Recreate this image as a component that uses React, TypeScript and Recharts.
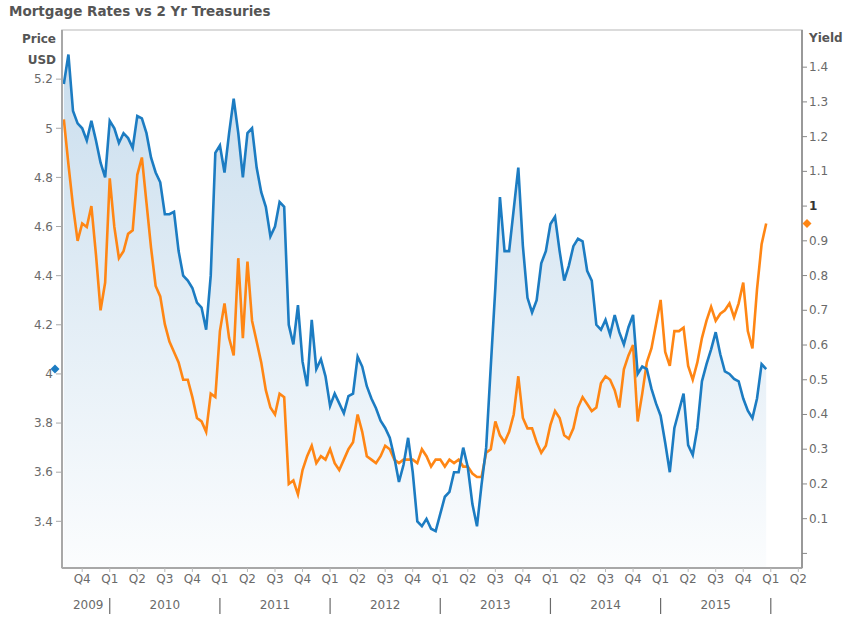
import { ComposedChart, Area, Line, XAxis, YAxis, ReferenceArea, ReferenceDot } from 'recharts';

// months since Jan 2009, one point every half month
const startMonth = 7;
const stepMonths = 0.5;

// Mortgage rate (left axis, USD)
const mortgageRate = [
  5.18, 5.30, 5.07, 5.02, 5.00, 4.95, 5.03, 4.95, 4.86, 4.80,
  5.03, 5.00, 4.94, 4.98, 4.96, 4.92, 5.05, 5.04, 4.98, 4.88,
  4.82, 4.78, 4.65, 4.65, 4.66, 4.50, 4.40, 4.38, 4.35, 4.29,
  4.27, 4.18, 4.40, 4.90, 4.93, 4.82, 4.98, 5.12, 4.98, 4.80,
  4.98, 5.00, 4.84, 4.74, 4.68, 4.56, 4.60, 4.70, 4.68, 4.20,
  4.12, 4.28, 4.05, 3.95, 4.22, 4.02, 4.06, 3.99, 3.87, 3.92,
  3.88, 3.84, 3.91, 3.92, 4.07, 4.03, 3.95, 3.90, 3.86, 3.81,
  3.78, 3.74, 3.66, 3.56, 3.63, 3.74, 3.60, 3.40, 3.38, 3.41,
  3.37, 3.36, 3.43, 3.50, 3.52, 3.60, 3.60, 3.70, 3.62, 3.47,
  3.38, 3.55, 3.70, 4.03, 4.35, 4.72, 4.50, 4.50, 4.67, 4.84,
  4.52, 4.31, 4.25, 4.30, 4.45, 4.50, 4.61, 4.64, 4.50, 4.38,
  4.44, 4.52, 4.55, 4.54, 4.42, 4.38, 4.20, 4.18, 4.22, 4.16,
  4.24, 4.17, 4.12, 4.19, 4.24, 4.00, 4.03, 4.02, 3.94, 3.88,
  3.83, 3.72, 3.60, 3.78, 3.85, 3.92, 3.71, 3.67, 3.78, 3.97,
  4.04, 4.10, 4.17, 4.08, 4.01, 4.00, 3.98, 3.97, 3.90, 3.85,
  3.82, 3.90, 4.04, 4.02,
];

// 2 Yr Treasury yield (right axis)
const treasuryYield = [
  1.25, 1.12, 1.00, 0.90, 0.95, 0.94, 1.00, 0.86, 0.70, 0.78,
  1.08, 0.94, 0.85, 0.87, 0.92, 0.93, 1.09, 1.14, 1.01, 0.88,
  0.77, 0.74, 0.66, 0.61, 0.58, 0.55, 0.50, 0.50, 0.45, 0.39,
  0.38, 0.35, 0.46, 0.45, 0.64, 0.72, 0.62, 0.57, 0.85, 0.62,
  0.84, 0.67, 0.61, 0.55, 0.47, 0.42, 0.40, 0.46, 0.45, 0.20,
  0.21, 0.17, 0.24, 0.28, 0.31, 0.26, 0.28, 0.27, 0.30, 0.26,
  0.24, 0.27, 0.30, 0.32, 0.40, 0.35, 0.28, 0.27, 0.26, 0.28,
  0.31, 0.30, 0.27, 0.26, 0.27, 0.27, 0.27, 0.26, 0.30, 0.28,
  0.25, 0.27, 0.27, 0.25, 0.27, 0.26, 0.27, 0.25, 0.25, 0.23,
  0.22, 0.22, 0.29, 0.30, 0.38, 0.34, 0.32, 0.35, 0.40, 0.51,
  0.39, 0.36, 0.36, 0.32, 0.29, 0.31, 0.37, 0.41, 0.39, 0.34,
  0.33, 0.36, 0.42, 0.45, 0.43, 0.41, 0.42, 0.49, 0.51, 0.50,
  0.47, 0.42, 0.53, 0.57, 0.60, 0.38, 0.46, 0.55, 0.59, 0.66,
  0.73, 0.58, 0.54, 0.64, 0.64, 0.65, 0.54, 0.50, 0.55, 0.62,
  0.67, 0.71, 0.67, 0.69, 0.70, 0.72, 0.68, 0.72, 0.78, 0.64,
  0.59, 0.76, 0.89, 0.95,
];

// quarter starts (months since Jan 2009): Q4 2009 .. Q2 2016
const quarterTicks = [9, 12, 15, 18, 21, 24, 27, 30, 33, 36, 39, 42, 45, 48, 51, 54, 57, 60, 63, 66, 69, 72, 75, 78, 81, 84, 87];
const priceTicks = [3.4, 3.6, 3.8, 4, 4.2, 4.4, 4.6, 4.8, 5, 5.2];
const yieldTicks = [0, 0.1, 0.2, 0.3, 0.4, 0.5, 0.6, 0.7, 0.8, 0.9, 1, 1.1, 1.2, 1.3, 1.4];

const xDomain: [number, number] = [6.8, 87.4];
const priceDomain: [number, number] = [3.21, 5.4];
const yieldDomain: [number, number] = [-0.042, 1.507];

const data = mortgageRate.map((v, i) => ({
  m: startMonth + i * stepMonths,
  rate: v,
  yld: treasuryYield[i],
}));

const BLUE = '#1c7cc2';
const ORANGE = '#ff8614';
const AXIS = '#a8a8a8';
const TEXT = '#6a6a6a';
const FONT = 'DejaVu Sans, Verdana, sans-serif';

const QuarterTick = (props: any) => {
  const { x, y, payload } = props;
  const m = payload.value;
  const q = Math.floor((m % 12) / 3) + 1;
  const year = 2009 + Math.floor(m / 12);
  return (
    <g fontFamily={FONT} fontSize={12} fill={TEXT}>
      <text x={x} y={y + 9} textAnchor="middle">{`Q${q}`}</text>
      {q === 1 && <line x1={x} x2={x} y1={y + 24} y2={y + 40} stroke={TEXT} strokeWidth={1.2} />}
      {q === 3 && <text x={x} y={y + 35} textAnchor="middle">{year}</text>}
      {m === 9 && <text x={x + 6} y={y + 35} textAnchor="middle">{year}</text>}
    </g>
  );
};

const YieldTick = (props: any) => {
  const { x, y, payload } = props;
  const v = payload.value;
  if (v === 0) return <g />;
  const isOne = v === 1;
  return (
    <text x={x} y={y + 4} textAnchor="start" fontFamily={FONT} fontSize={12}
      fill={isOne ? '#333' : TEXT} fontWeight={isOne ? 'bold' : 'normal'}>
      {String(v)}
    </text>
  );
};

const diamond = (cx: number, cy: number, r: number) =>
  `M${cx},${cy - r} L${cx + r},${cy} L${cx},${cy + r} L${cx - r},${cy} Z`;

const App = () => {
  const lastRate = mortgageRate[mortgageRate.length - 1];
  const lastYield = treasuryYield[treasuryYield.length - 1];
  return (
    <div style={{ position: 'absolute', left: 0, top: 0, width: 847, height: 618, background: '#fff' }}>
      <div style={{ position: 'absolute', left: 9, top: 3, fontFamily: FONT, fontWeight: 'bold', fontSize: 13.5, color: '#555' }}>
        Mortgage Rates vs 2 Yr Treasuries
      </div>
      <div style={{ position: 'absolute', left: 0, width: 56, textAlign: 'right', top: 32, fontFamily: FONT, fontWeight: 'bold', fontSize: 12, color: '#555' }}>
        Price
      </div>
      <div style={{ position: 'absolute', left: 0, width: 56, textAlign: 'right', top: 53, fontFamily: FONT, fontWeight: 'bold', fontSize: 12, color: '#555' }}>
        USD
      </div>
      <div style={{ position: 'absolute', left: 809, top: 31, fontFamily: FONT, fontWeight: 'bold', fontSize: 12, color: '#555' }}>
        Yield
      </div>
      <ComposedChart width={847} height={618} data={data} margin={{ top: 30, right: 0, bottom: 0, left: 0 }}>
        <defs>
          <linearGradient id="rateFill" x1="0" y1="0" x2="0" y2="1">
            <stop offset="0%" stopColor="#2b7bba" stopOpacity={0.42} />
            <stop offset="100%" stopColor="#2b7bba" stopOpacity={0.03} />
          </linearGradient>
        </defs>
        <XAxis
          dataKey="m"
          type="number"
          domain={xDomain}
          ticks={quarterTicks}
          interval={0}
          allowDataOverflow
          height={50}
          tick={<QuarterTick />}
          tickSize={4}
          tickMargin={2}
          tickLine={{ stroke: '#bbb' }}
          axisLine={{ stroke: AXIS, strokeWidth: 2 }}
        />
        <YAxis
          yAxisId="left"
          orientation="left"
          width={62}
          domain={priceDomain}
          ticks={priceTicks}
          interval={0}
          allowDataOverflow
          tickSize={6}
          tickMargin={3}
          tick={{ fill: TEXT, fontSize: 12, fontFamily: FONT }}
          tickLine={{ stroke: AXIS }}
          axisLine={{ stroke: AXIS, strokeWidth: 2 }}
        />
        <YAxis
          yAxisId="right"
          orientation="right"
          width={45}
          domain={yieldDomain}
          ticks={yieldTicks}
          interval={0}
          allowDataOverflow
          tickSize={5}
          tickMargin={2}
          tick={<YieldTick />}
          tickLine={{ stroke: '#888' }}
          axisLine={{ stroke: '#999', strokeWidth: 2 }}
        />
        <ReferenceArea
          yAxisId="left"
          x1={xDomain[0]}
          x2={xDomain[1]}
          y1={priceDomain[0]}
          y2={priceDomain[1]}
          fill="none"
          stroke="#cfcfcf"
          strokeWidth={1.5}
          ifOverflow="visible"
        />
        <Area
          yAxisId="left"
          type="linear"
          dataKey="rate"
          stroke="none"
          fill="url(#rateFill)"
          isAnimationActive={false}
        />
        <Line
          yAxisId="right"
          type="linear"
          dataKey="yld"
          stroke={ORANGE}
          strokeWidth={2.6}
          dot={false}
          isAnimationActive={false}
        />
        <Line
          yAxisId="left"
          type="linear"
          dataKey="rate"
          stroke={BLUE}
          strokeWidth={2.6}
          dot={false}
          isAnimationActive={false}
        />
        <ReferenceDot
          yAxisId="left"
          x={xDomain[0]}
          y={lastRate}
          ifOverflow="visible"
          shape={(p: any) => <path d={diamond(p.cx - 7, p.cy, 4.5)} fill={BLUE} />}
        />
        <ReferenceDot
          yAxisId="right"
          x={xDomain[1]}
          y={lastYield}
          ifOverflow="visible"
          shape={(p: any) => <path d={diamond(p.cx + 5, p.cy, 4.5)} fill={ORANGE} />}
        />
      </ComposedChart>
    </div>
  );
};

export default App;
